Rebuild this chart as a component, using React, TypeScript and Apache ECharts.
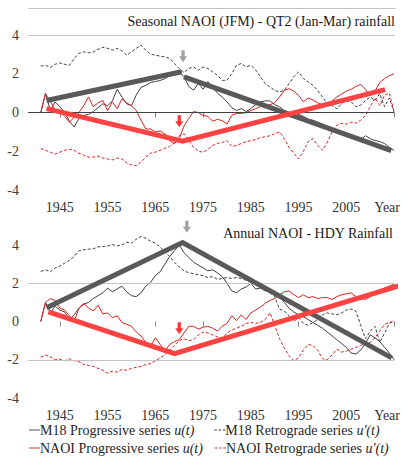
import React, { useEffect, useRef } from "react";
import * as echarts from "echarts";

const FONT = "Liberation Serif";

const firstYear = 1941;
const tickYears = [1945, 1965, 1975, 1995, 2015];
const labelYears = [1945, 1955, 1965, 1975, 1985, 1995, 2005, 2015];
const yTicks = { min: -4, max: 4, step: 2 };

const titles = ["Seasonal NAOI (JFM) - QT2 (Jan-Mar) rainfall", "Annual NAOI - HDY Rainfall"];
const names = ["M18 Progressive series u(t)", "M18 Retrograde series u'(t)", "NAOI Progressive series u(t)", "NAOI Retrograde series u'(t)"];

// ---------- Top panel (seasonal) ----------
const topM18Prog = [0, 1.0, 0.1, 0.55, 0.3, 0.0, -0.45, -0.75, -0.3, -0.15, -0.1, 0.05, 0.25, 0.45, 0.35, 0.6, 1.2, 0.8, 0.45, 0.35, 0.9, 1.3, 1.4, 1.55, 1.6, 1.65, 1.75, 1.9, 2.0, 2.1, 1.85, 1.35, 1.15, 1.5, 1.2, 1.6, 1.3, 1.0, 0.8, 0.55, 0.25, 0.1, 0.2, 0.05, 0.2, 0.4, 0.55, 0.6, 0.6, 0.4, 0.3, 0.1, 0.0, 0.05, -0.1, -0.2, -0.35, -0.4, -0.5, -0.6, -0.7, -0.85, -0.9, -1.0, -1.1, -1.25, -1.35, -1.4, -1.2, -1.35, -1.45, -1.5, -1.6, -1.8, -1.95];
const topM18Retro = [2.39, 2.44, 2.32, 2.49, 2.56, 2.49, 2.44, 2.79, 3.05, 3.13, 3.08, 3.13, 3.26, 3.36, 3.31, 3.22, 3.31, 3.19, 2.96, 3.13, 3.31, 3.48, 3.22, 3.01, 2.96, 2.91, 2.87, 2.79, 2.53, 2.27, 2.06, 2.27, 2.35, 2.18, 2.35, 2.27, 2.1, 1.92, 1.66, 1.66, 2.0, 2.44, 2.53, 2.35, 2.44, 2.2, 1.84, 1.49, 1.32, 1.14, 1.06, 1.14, 1.49, 1.84, 2.1, 1.75, 1.58, 1.4, 1.14, 0.8, 0.45, 0.36, 0.19, 0.45, 0.62, 0.55, 0.3, 0.38, 0.62, 0.8, 0.62, 0.97, 0.3, 0.75, 0.0];
const topNaoiProg = [0, 0.95, 0.6, 0.1, 0.05, -0.2, -0.5, -0.25, 0.0, 0.35, 0.8, 0.3, 0.5, 0.62, 0.1, 0.55, 0.2, 0.7, 0.5, 0.35, 0.1, -0.4, -0.85, -0.85, -1.0, -0.95, -1.1, -1.45, -1.6, -1.35, -0.7, -0.3, 0.05, 0.0, -0.15, -0.2, -0.45, -0.35, -0.42, -0.6, -0.15, -0.05, -0.05, 0.0, 0.1, 0.2, 0.3, 0.35, 0.4, 0.5, 0.8, 1.14, 1.23, 1.1, 0.88, 0.55, 0.75, 0.65, 0.5, 0.4, 0.35, 0.6, 0.8, 0.95, 1.1, 1.2, 1.35, 1.45, 1.2, 0.85, 1.1, 1.55, 1.75, 1.9, 2.0];
const topNaoiRetro = [-1.85, -1.95, -2.05, -2.15, -2.05, -1.95, -1.9, -1.95, -2.1, -2.2, -2.3, -2.3, -2.25, -2.35, -2.4, -2.45, -2.35, -2.4, -2.6, -2.7, -2.75, -2.55, -2.3, -2.1, -2.05, -1.95, -1.85, -1.75, -1.55, -1.2, -1.1, -1.45, -1.8, -2.0, -2.05, -1.9, -1.7, -1.6, -1.55, -1.45, -1.75, -1.7, -1.6, -1.5, -1.45, -1.4, -1.3, -1.25, -1.2, -1.1, -1.0, -1.35, -1.8, -2.1, -2.4, -2.0, -1.5, -1.35, -1.7, -1.95, -1.55, -1.0, -0.65, -0.55, -0.6, -0.5, -0.55, -0.4, -0.15, 0.3, 0.75, 0.35, 0.9, 1.0, 0.05];
const topM18Trend1 = [[1942.2, 0.62], [1970.5, 2.1]];
const topM18Trend2 = [[1971, 1.84], [2014.4, -1.97]];
const topNaoiTrend = [[1942.2, 0.2], [1970.7, -1.48], [2013.1, 1.18]];
const topArrowGray = [[1970.8, 2.9]];
const topArrowRed = [[1970, -0.45]];

// ---------- Bottom panel (annual) ----------
const botM18Prog = [0, 1.0, 0.45, 0.8, 0.6, 0.5, 0.1, 0.35, 0.7, 0.9, 1.0, 1.2, 1.35, 1.5, 1.75, 1.55, 1.7, 1.85, 1.55, 1.35, 1.3, 1.5, 1.85, 2.05, 2.4, 2.6, 3.0, 3.4, 3.7, 4.0, 3.6, 3.35, 3.1, 2.95, 2.8, 2.65, 2.7, 2.55, 2.35, 2.0, 1.6, 1.5, 1.7, 1.8, 2.0, 1.7, 1.75, 1.6, 1.65, 1.5, 1.3, 1.0, 0.7, 0.5, 0.35, 0.25, 0.1, -0.05, -0.2, -0.35, -0.55, -0.75, -0.95, -1.15, -1.35, -1.65, -1.7, -1.5, -1.15, -0.7, -0.85, -1.05, -1.35, -1.65, -2.0];
const botM18Retro = [2.62, 2.7, 2.6, 2.8, 2.9, 3.05, 3.2, 3.4, 3.7, 3.75, 3.78, 3.8, 3.9, 3.92, 3.95, 4.02, 3.95, 4.0, 4.15, 4.1, 4.3, 4.45, 4.35, 4.2, 4.1, 3.9, 3.65, 3.4, 3.1, 2.85, 2.65, 2.55, 2.5, 2.45, 2.4, 2.3, 2.35, 2.2, 2.25, 2.3, 2.25, 2.3, 2.25, 2.15, 2.05, 2.0, 1.9, 1.75, 1.5, 1.3, 0.65, 0.55, 0.3, 0.0, 0.2, -0.1, -0.2, -0.05, 0.1, 0.35, 0.45, 0.4, 0.35, 0.45, 0.6, 0.65, 0.55, -0.2, -0.9, -0.5, -0.25, -1.1, -0.6, -0.1, 0.05];
const botNaoiProg = [0, 1.0, 1.2, 1.1, 0.7, 0.6, 0.3, 0.0, 0.7, 0.95, 0.7, 0.55, 0.85, 0.4, 0.45, 0.2, 0.3, -0.05, -0.15, -0.25, -0.55, -0.75, -1.1, -1.3, -0.85, -1.2, -1.55, -1.2, -1.05, -0.95, -0.6, -0.25, -0.25, -0.4, -0.3, -0.25, -0.35, -0.5, -0.25, -0.1, 0.3, 0.05, 0.35, 0.1, 0.45, 0.6, 0.75, 0.95, 1.1, 1.2, 1.4, 1.55, 1.6, 1.4, 1.25, 1.4, 1.25, 1.3, 1.2, 1.25, 1.25, 1.15, 1.3, 1.4, 1.45, 1.5, 1.3, 1.2, 1.15, 1.3, 1.55, 1.65, 1.75, 1.85, 1.95];
const botNaoiRetro = [-1.88, -1.75, -1.85, -2.0, -1.97, -2.05, -1.95, -2.05, -2.1, -2.25, -2.3, -2.35, -2.45, -2.55, -2.7, -2.6, -2.65, -2.5, -2.55, -2.45, -2.4, -2.35, -2.25, -2.2, -2.05, -1.9, -1.75, -1.5, -1.25, -1.0, -0.9, -1.0, -0.95, -0.7, -0.55, -0.6, -0.7, -0.8, -0.85, -0.6, -0.45, -0.35, -0.25, -0.1, -0.05, -0.1, -0.05, 0.1, 0.45, -0.2, -0.9, -1.4, -1.8, -2.05, -1.9, -1.5, -1.2, -1.25, -1.5, -1.95, -2.0, -1.75, -1.45, -1.6, -1.55, -1.45, -1.35, -1.25, -1.15, -1.1, -0.85, -0.5, -0.15, -0.05, 0.0];
const botM18Trend = [[1942.2, 0.72], [1970.7, 4.13], [2014.5, -1.9]];
const botNaoiTrend = [[1942.6, 0.5], [1969, -1.68], [2016.5, 1.9]];
const botArrowGray = [[1971.6, 4.95]];
const botArrowRed = [[1970, -0.35]];

const GRAY_THIN = "#3f3f3f";
const RED_THIN = "#e0201e";
const GRAY_THICK = "#595959";
const RED_THICK = "#ff4242";
const ARROW_GRAY = "#8a8a8a";
const ARROW_RED = "#ff0000";
const ARROW_PATH = "path://M3,0L7,0L7,6L10,6L5,12L0,6L3,6Z";
const ICON_SOLID = "path://M0,0H12V1H0Z";
const ICON_DASH = "path://M0,0H3V1H0Z M5,0H8V1H5Z M10,0H13V1H10Z";

const toPairs = (vals: number[]) => vals.map((v, i) => [firstYear + i, v]);

function thin(name: string, g: number, vals: number[], color: string, dashed: boolean, extra: any = {}) {
  return {
    type: "line",
    name,
    xAxisIndex: g,
    yAxisIndex: g,
    data: toPairs(vals),
    symbol: "none",
    clip: false,
    lineStyle: { color, width: 1, type: dashed ? [3, 2] : "solid" },
    itemStyle: { color },
    z: 3,
    ...extra,
  };
}

function thick(g: number, data: number[][], color: string) {
  return {
    type: "line",
    name: "trend",
    xAxisIndex: g,
    yAxisIndex: g,
    data,
    symbol: "none",
    clip: false,
    lineStyle: { color, width: 5, cap: "butt", join: "miter" },
    z: 5,
    silent: true,
  };
}

function arrow(g: number, data: number[][], color: string) {
  return {
    type: "scatter",
    name: "arrow",
    xAxisIndex: g,
    yAxisIndex: g,
    data,
    symbol: ARROW_PATH,
    symbolSize: [8, 12],
    clip: false,
    itemStyle: { color },
    z: 6,
    silent: true,
  };
}

function gridLines(vals: { v: number; c: string }[]) {
  return {
    silent: true,
    symbol: "none",
    label: { show: false },
    data: vals.map((d) => ({ yAxis: d.v, lineStyle: { color: d.c, width: 1, type: "solid" } })),
  };
}

const axisRich = {
  d: { fontFamily: FONT, fontSize: 14, color: "#333" },
  y: { fontFamily: FONT, fontSize: 14, color: "#333", padding: [0, 14, 0, 0] },
  v: { fontFamily: FONT, fontSize: 14, color: "#404040" },
};

function xAxis(g: number) {
  return {
    type: "value",
    gridIndex: g,
    min: 1938.33,
    max: 2015,
    axisLine: { show: false },
    splitLine: { show: false },
    axisTick: { show: true, customValues: tickYears, length: 5, lineStyle: { color: "#7f7f7f" } },
    axisLabel: {
      customValues: labelYears,
      margin: 10,
      fontFamily: FONT,
      fontSize: 14,
      formatter: (v: number) => (v === 2015 ? "{y|Year}" : "{d|" + v + "}"),
      rich: axisRich,
    },
  };
}

function yAxis(g: number) {
  return {
    type: "value",
    gridIndex: g,
    min: yTicks.min,
    max: yTicks.max,
    interval: yTicks.step,
    axisLine: { show: false },
    axisTick: { show: false },
    splitLine: { show: false },
    axisLabel: {
      margin: 9,
      fontFamily: FONT,
      fontSize: 14,
      formatter: (v: number) => "{v|" + v + "}",
      rich: axisRich,
    },
  };
}

const legendRich = {
  n: { fontFamily: FONT, fontSize: 14, color: "#262626" },
  i: { fontFamily: FONT, fontSize: 14, color: "#262626", fontStyle: "italic" },
};
const legendFormatter = (name: string) => {
  const k = name.lastIndexOf(" ");
  return "{n|" + name.slice(0, k + 1) + "}{i|" + name.slice(k + 1) + "}";
};

function legend(items: { name: string; color: string; dashed: boolean }[], top: number, gap: number) {
  return {
    data: items.map((it) => ({
      name: it.name,
      icon: it.dashed ? ICON_DASH : ICON_SOLID,
      itemStyle: { color: it.color, borderWidth: 0 },
    })),
    left: 29,
    top,
    orient: "horizontal",
    itemWidth: 11,
    itemHeight: 1,
    itemGap: gap,
    padding: 0,
    selectedMode: false,
    formatter: legendFormatter,
    textStyle: { rich: legendRich, fontFamily: FONT, fontSize: 14, color: "#262626", padding: [0, 0, 0, -5] },
  };
}

export default function App() {
  const ref = useRef<HTMLDivElement>(null);
  useEffect(() => {
    document.body.style.margin = "0";
    if (!ref.current) return;
    const chart = echarts.init(ref.current, undefined, { renderer: "svg" });
    const option: any = {
      animation: false,
      backgroundColor: "#ffffff",
      textStyle: { fontFamily: FONT },
      grid: [
        { left: 28, right: 7, top: 35, height: 155 },
        { left: 28, right: 7, top: 245, height: 153 },
      ],
      xAxis: [xAxis(0), xAxis(1)],
      yAxis: [yAxis(0), yAxis(1)],
      legend: [
        legend(
          [
            { name: names[0], color: GRAY_THIN, dashed: false },
            { name: names[1], color: GRAY_THIN, dashed: true },
          ],
          423,
          20
        ),
        legend(
          [
            { name: names[2], color: RED_THIN, dashed: false },
            { name: names[3], color: RED_THIN, dashed: true },
          ],
          441,
          12
        ),
      ],
      graphic: [
        { type: "line", shape: { x1: 28, y1: 8.5, x2: 396, y2: 8.5 }, style: { stroke: "#c4c4c4", lineWidth: 1 } },
        {
          type: "text",
          x: 395,
          y: 21,
          style: { text: titles[0], textAlign: "right", textVerticalAlign: "middle", font: "14px " + FONT, fill: "#1a1a1a" },
        },
        {
          type: "text",
          x: 393,
          y: 233,
          style: { text: titles[1], textAlign: "right", textVerticalAlign: "middle", font: "14px " + FONT, fill: "#1a1a1a" },
        },
      ],
      series: [
        thin(names[0], 0, topM18Prog, GRAY_THIN, false, {
          markLine: gridLines([
            { v: 4, c: "#c4c4c4" },
            { v: 0, c: "#404040" },
          ]),
        }),
        thin(names[1], 0, topM18Retro, GRAY_THIN, true),
        thin(names[2], 0, topNaoiProg, RED_THIN, false),
        thin(names[3], 0, topNaoiRetro, RED_THIN, true),
        thick(0, topM18Trend1, GRAY_THICK),
        thick(0, topM18Trend2, GRAY_THICK),
        thick(0, topNaoiTrend, RED_THICK),
        arrow(0, topArrowGray, ARROW_GRAY),
        arrow(0, topArrowRed, ARROW_RED),

        thin(names[0], 1, botM18Prog, GRAY_THIN, false, {
          markLine: gridLines([
            { v: 2, c: "#c4c4c4" },
            { v: -2, c: "#c4c4c4" },
          ]),
        }),
        thin(names[1], 1, botM18Retro, GRAY_THIN, true),
        thin(names[2], 1, botNaoiProg, RED_THIN, false),
        thin(names[3], 1, botNaoiRetro, RED_THIN, true),
        thick(1, botM18Trend, GRAY_THICK),
        thick(1, botNaoiTrend, RED_THICK),
        arrow(1, botArrowGray, ARROW_GRAY),
        arrow(1, botArrowRed, ARROW_RED),
      ],
    };
    chart.setOption(option);
    return () => chart.dispose();
  }, []);
  return <div ref={ref} style={{ width: 403, height: 457 }} />;
}
